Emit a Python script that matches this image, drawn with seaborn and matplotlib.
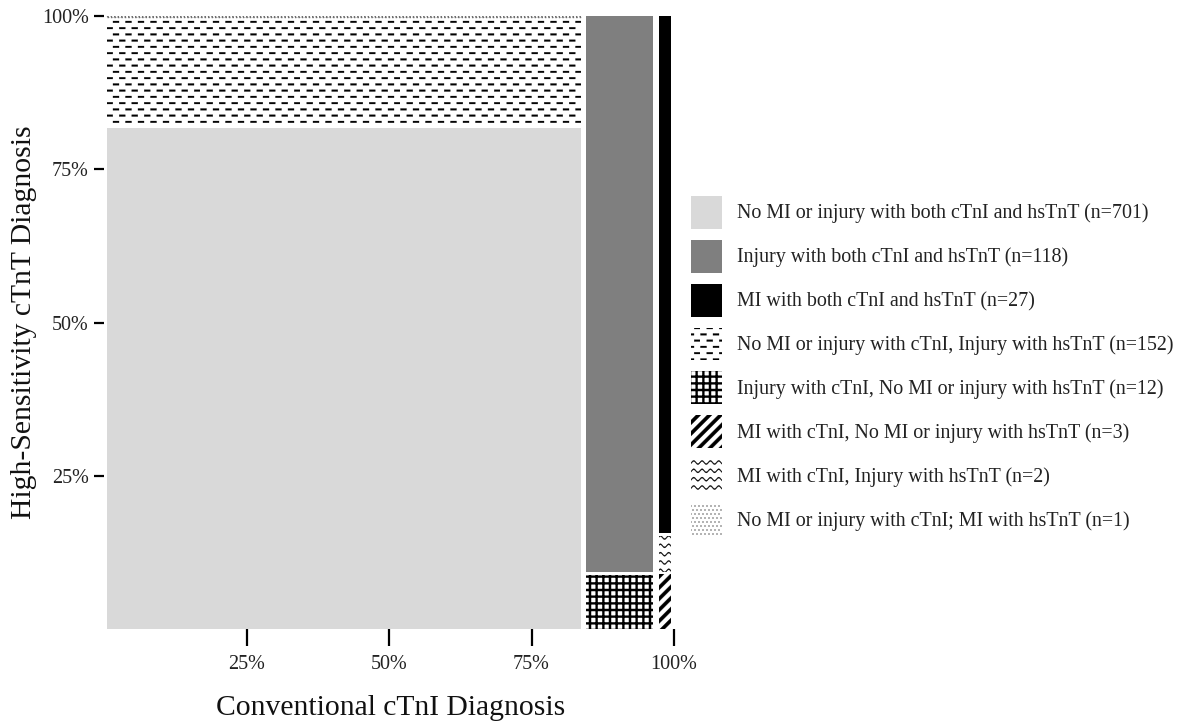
import numpy as np
import pandas as pd
import matplotlib
matplotlib.use("Agg")
import matplotlib.pyplot as plt
import matplotlib.hatch as mhatch
import matplotlib.patches as mpatches
from matplotlib.path import Path
import seaborn as sns

# ---------------- data ----------------
ctni_order = ["No MI or injury", "Injury", "MI"]
hstnt_order = ["No MI or injury", "Injury", "MI"]
tile_labels = [
    "No MI or injury with both cTnI and hsTnT (n=701)",
    "Injury with both cTnI and hsTnT (n=118)",
    "MI with both cTnI and hsTnT (n=27)",
    "No MI or injury with cTnI, Injury with hsTnT (n=152)",
    "Injury with cTnI, No MI or injury with hsTnT (n=12)",
    "MI with cTnI, No MI or injury with hsTnT (n=3)",
    "MI with cTnI, Injury with hsTnT (n=2)",
    "No MI or injury with cTnI; MI with hsTnT (n=1)",
]
tile_ctni = ["No MI or injury", "Injury", "MI", "No MI or injury",
             "Injury", "MI", "MI", "No MI or injury"]
tile_hstnt = ["No MI or injury", "Injury", "MI", "Injury",
              "No MI or injury", "No MI or injury", "Injury", "MI"]
tile_counts = [701, 118, 27, 152, 12, 3, 2, 1]
tick_values = [0.25, 0.50, 0.75, 1.00]
tick_labels = ["25%", "50%", "75%", "100%"]
x_title = "Conventional cTnI Diagnosis"
y_title = "High-Sensitivity cTnT Diagnosis"

# ---------------- styles ----------------
tile_faces = ["#d9d9d9", "#7f7f7f", "#000000", "white", "white", "white", "white", "white"]
tile_edges = ["black", "black", "black", "black", "black", "black", "black", "#6e6e6e"]
tile_hatches = [None, None, None, "-", "+", "/", "o", "."]
tile_outline = [0, 0, 0, 0, 0, 0, 0, 1.0]


# ---------------- custom hatch patterns (filled shapes) ----------------
def _rect(x0, y0, x1, y1):
    return np.array([(x0, y0), (x1, y0), (x1, y1), (x0, y1), (x0, y0)], float)


class _PolyHatch(mhatch.HatchPatternBase):
    char = None

    def __init__(self, hatch, density):
        if self.char is not None and hatch.count(self.char) > 0:
            self.polys = self.build()
        else:
            self.polys = []
        self.num_vertices = int(sum(len(p) for p in self.polys))

    def build(self):
        return []

    def set_vertices_and_codes(self, vertices, codes):
        i = 0
        for p in self.polys:
            n = len(p)
            vertices[i:i + n] = p
            codes[i] = Path.MOVETO
            codes[i + 1:i + n - 1] = Path.LINETO
            codes[i + n - 1] = Path.CLOSEPOLY
            i += n


class DashHatch(_PolyHatch):
    char = "-"

    def build(self):
        polys = []
        rows, per = 16, 8
        t, L = 0.017, 0.06
        for r in range(rows):
            y = (r + 0.5) / rows
            off = (r % 2) * (0.5 / per)
            for k in range(per):
                x0 = k / per + off + 0.005
                polys.append(_rect(x0, y - t / 2, x0 + L, y + t / 2))
        return polys


class GridHatch(_PolyHatch):
    char = "+"

    def build(self):
        polys = []
        n, t = 15, 0.021
        for k in range(n):
            c = (k + 0.5) / n
            polys.append(_rect(0, c - t / 2, 1, c + t / 2))
            polys.append(_rect(c - t / 2, 0, c + t / 2, 1))
        return polys


class DiagHatch(_PolyHatch):
    char = "/"

    def build(self):
        polys = []
        n, w = 9, 0.048
        for k in range(-n, n + 1):
            c = k / n
            polys.append(np.array([(c, 0), (c + w, 0), (c + w + 1, 1), (c + 1, 1), (c, 0)], float))
        return polys


class WaveHatch(_PolyHatch):
    char = "o"

    def build(self):
        polys = []
        rows, per = 12, 12
        a, t = 0.016, 0.011
        xs = np.linspace(0, 1, 12 * per + 1)
        for r in range(rows):
            y0 = (r + 0.5) / rows
            ys = y0 + a * np.sin(2 * np.pi * per * xs)
            up = np.column_stack([xs, ys + t / 2])
            lo = np.column_stack([xs[::-1], ys[::-1] - t / 2])
            poly = np.vstack([up, lo, up[:1]])
            polys.append(poly)
        return polys


class DotHatch(_PolyHatch):
    char = "."

    def build(self):
        polys = []
        n, s = 25, 0.011
        for r in range(n):
            y = (r + 0.5) / n
            off = (r % 2) * (0.5 / n)
            for k in range(n):
                x = (k + 0.25) / n + off
                polys.append(_rect(x - s / 2, y - s / 2, x + s / 2, y + s / 2))
        return polys


mhatch._hatch_types = [DashHatch, GridHatch, DiagHatch, WaveHatch, DotHatch]

# ---------------- theme ----------------
sns.set_theme(style="white")
plt.rcParams["font.family"] = ["Liberation Serif", "DejaVu Serif"]
plt.rcParams["hatch.linewidth"] = 0.2

# ---------------- mosaic geometry from counts ----------------
df = pd.DataFrame({"ctni": tile_ctni, "hstnt": tile_hstnt, "n": tile_counts,
                   "label": tile_labels, "face": tile_faces, "edge": tile_edges,
                   "hatch": tile_hatches, "outline": tile_outline,
                   "order": range(len(tile_labels))})
total = df["n"].sum()
col_tot = df.groupby("ctni")["n"].sum().reindex(ctni_order)
col_x1 = col_tot.cumsum() / total
col_x0 = col_x1 - col_tot / total

df["hrank"] = df["hstnt"].map({h: i for i, h in enumerate(hstnt_order)})
rows = []
for c in ctni_order:
    sub = df[df["ctni"] == c].sort_values("hrank")
    frac = sub["n"] / sub["n"].sum()
    y1 = frac.cumsum()
    y0 = y1 - frac
    sub = sub.assign(x0=col_x0[c], x1=col_x1[c], y0=y0.values, y1=y1.values,
                     top=[False] * (len(sub) - 1) + [True])
    rows.append(sub)
tiles = pd.concat(rows).sort_values("order")

gx, gy = 0.0045, 0.004

fig = plt.figure(figsize=(11.81, 7.28), dpi=100)
ax = fig.add_axes([104 / 1181, 1 - 629 / 728, 570 / 1181, 613 / 728])

handles = []
for _, t in tiles.iterrows():
    top = t["y1"] if t["top"] else t["y1"] - gy
    ls = (0, (1, 1.5)) if t["outline"] > 0 else "solid"
    ax.bar(t["x0"] + gx, top - t["y0"], width=(t["x1"] - t["x0"]) - 2 * gx,
           bottom=t["y0"], align="edge", color=t["face"], edgecolor=t["edge"],
           linewidth=t["outline"], linestyle=ls, hatch=t["hatch"])
    handles.append(mpatches.Patch(facecolor=t["face"], edgecolor=t["edge"],
                                  linewidth=0, hatch=t["hatch"]))

ax.set_xlim(0, 1)
ax.set_ylim(0, 1)
ax.set_xticks(tick_values, tick_labels)
ax.set_yticks(tick_values, tick_labels)
ax.tick_params(axis="x", length=12.5, width=1.6, color="black", pad=6,
               labelsize=14.5, labelcolor="#222222", bottom=True)
ax.tick_params(axis="y", length=7, width=1.6, color="black", pad=4,
               labelsize=14.5, labelcolor="#222222", left=True)
sns.despine(ax=ax, left=True, bottom=True)
ax.grid(False)

ax.set_xlabel(x_title, fontsize=21.3, color="#111111")
ax.xaxis.set_label_coords(0.502, -0.108)
ax.set_ylabel(y_title, fontsize=21.3, color="#111111")
ax.yaxis.set_label_coords(-0.118, 0.5)

fig.legend(handles=handles, labels=tile_labels, loc="center left",
           bbox_to_anchor=(691 / 1181, 1 - 366 / 728), frameon=False,
           fontsize=14.4, handlelength=1.55, handleheight=2.16,
           labelspacing=0.55, handletextpad=0.74, borderpad=0, borderaxespad=0,
           labelcolor="#222222")

fig.savefig("out.png", dpi=100)
